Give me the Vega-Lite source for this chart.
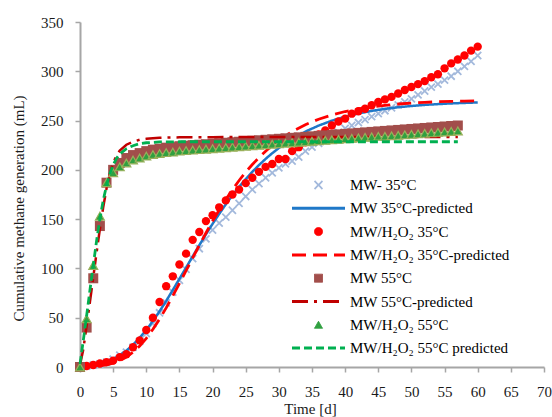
{
"$schema": "https://vega.github.io/schema/vega-lite/v6.json",
"width": 464, "height": 345,
"autosize": {"type": "none"},
"padding": {"left": 80, "top": 22, "right": 8, "bottom": 50},
"background": "white",
"config": {
  "view": {"stroke": null},
  "font": "Liberation Serif",
  "axis": {"domainColor": "#A6A6A6", "domainWidth": 2, "tickColor": "#A6A6A6", "tickWidth": 1.5, "tickSize": 5, "grid": false,
    "labelFont": "Liberation Serif", "labelFontSize": 15, "labelColor": "#1a1a1a",
    "titleFont": "Liberation Serif", "titleFontSize": 15, "titleFontWeight": "normal", "titleColor": "#1a1a1a"}
},
"data": {"values": [
{"s":"MW- 35°C","t":0,"v":0},{"s":"MW- 35°C","t":1,"v":1},{"s":"MW- 35°C","t":2,"v":2},{"s":"MW- 35°C","t":3,"v":3},{"s":"MW- 35°C","t":4,"v":5},{"s":"MW- 35°C","t":5,"v":8},{"s":"MW- 35°C","t":6,"v":12},{"s":"MW- 35°C","t":7,"v":15},{"s":"MW- 35°C","t":8,"v":20},{"s":"MW- 35°C","t":9,"v":26},{"s":"MW- 35°C","t":10,"v":34},{"s":"MW- 35°C","t":11,"v":44},{"s":"MW- 35°C","t":12,"v":55},{"s":"MW- 35°C","t":13,"v":65},{"s":"MW- 35°C","t":14,"v":76},{"s":"MW- 35°C","t":15,"v":88},{"s":"MW- 35°C","t":16,"v":99},{"s":"MW- 35°C","t":17,"v":110},{"s":"MW- 35°C","t":18,"v":120},{"s":"MW- 35°C","t":19,"v":130},{"s":"MW- 35°C","t":20,"v":139},{"s":"MW- 35°C","t":21,"v":146},{"s":"MW- 35°C","t":22,"v":152},{"s":"MW- 35°C","t":23,"v":159},{"s":"MW- 35°C","t":24,"v":166},{"s":"MW- 35°C","t":25,"v":173},{"s":"MW- 35°C","t":26,"v":180},{"s":"MW- 35°C","t":27,"v":186},{"s":"MW- 35°C","t":28,"v":192},{"s":"MW- 35°C","t":29,"v":197},{"s":"MW- 35°C","t":30,"v":202},{"s":"MW- 35°C","t":31,"v":206},{"s":"MW- 35°C","t":32,"v":209},{"s":"MW- 35°C","t":33,"v":213},{"s":"MW- 35°C","t":34,"v":219},{"s":"MW- 35°C","t":35,"v":223},{"s":"MW- 35°C","t":36,"v":227},{"s":"MW- 35°C","t":37,"v":231},{"s":"MW- 35°C","t":38,"v":235},{"s":"MW- 35°C","t":39,"v":238},{"s":"MW- 35°C","t":40,"v":242},{"s":"MW- 35°C","t":41,"v":245},{"s":"MW- 35°C","t":42,"v":248},{"s":"MW- 35°C","t":43,"v":251},{"s":"MW- 35°C","t":44,"v":254},{"s":"MW- 35°C","t":45,"v":257},{"s":"MW- 35°C","t":46,"v":260},{"s":"MW- 35°C","t":47,"v":263},{"s":"MW- 35°C","t":48,"v":266},{"s":"MW- 35°C","t":49,"v":269},{"s":"MW- 35°C","t":50,"v":272},{"s":"MW- 35°C","t":51,"v":276},{"s":"MW- 35°C","t":52,"v":280},{"s":"MW- 35°C","t":53,"v":284},{"s":"MW- 35°C","t":54,"v":287},{"s":"MW- 35°C","t":55,"v":291},{"s":"MW- 35°C","t":56,"v":295},{"s":"MW- 35°C","t":57,"v":300},{"s":"MW- 35°C","t":58,"v":305},{"s":"MW- 35°C","t":59,"v":310},{"s":"MW- 35°C","t":60,"v":316},
{"s":"MW 35°C-predicted","t":0,"v":0.5},{"s":"MW 35°C-predicted","t":1,"v":1},{"s":"MW 35°C-predicted","t":2,"v":1.9},{"s":"MW 35°C-predicted","t":3,"v":3.2},{"s":"MW 35°C-predicted","t":4,"v":5.2},{"s":"MW 35°C-predicted","t":5,"v":8},{"s":"MW 35°C-predicted","t":6,"v":11.8},{"s":"MW 35°C-predicted","t":7,"v":16.6},{"s":"MW 35°C-predicted","t":8,"v":22.5},{"s":"MW 35°C-predicted","t":9,"v":29.6},{"s":"MW 35°C-predicted","t":10,"v":37.6},{"s":"MW 35°C-predicted","t":11,"v":46.6},{"s":"MW 35°C-predicted","t":12,"v":56.5},{"s":"MW 35°C-predicted","t":13,"v":67},{"s":"MW 35°C-predicted","t":14,"v":78.1},{"s":"MW 35°C-predicted","t":15,"v":89.4},{"s":"MW 35°C-predicted","t":16,"v":100.8},{"s":"MW 35°C-predicted","t":17,"v":112.3},{"s":"MW 35°C-predicted","t":18,"v":123.5},{"s":"MW 35°C-predicted","t":19,"v":134.6},{"s":"MW 35°C-predicted","t":20,"v":145.2},{"s":"MW 35°C-predicted","t":21,"v":155.3},{"s":"MW 35°C-predicted","t":22,"v":165.1},{"s":"MW 35°C-predicted","t":23,"v":174.1},{"s":"MW 35°C-predicted","t":24,"v":182.7},{"s":"MW 35°C-predicted","t":25,"v":190.6},{"s":"MW 35°C-predicted","t":26,"v":198},{"s":"MW 35°C-predicted","t":27,"v":204.8},{"s":"MW 35°C-predicted","t":28,"v":211.1},{"s":"MW 35°C-predicted","t":29,"v":216.9},{"s":"MW 35°C-predicted","t":30,"v":222.1},{"s":"MW 35°C-predicted","t":32,"v":231.2},{"s":"MW 35°C-predicted","t":34,"v":238.8},{"s":"MW 35°C-predicted","t":36,"v":244.9},{"s":"MW 35°C-predicted","t":38,"v":249.9},{"s":"MW 35°C-predicted","t":40,"v":253.9},{"s":"MW 35°C-predicted","t":42,"v":257.2},{"s":"MW 35°C-predicted","t":44,"v":259.8},{"s":"MW 35°C-predicted","t":46,"v":261.9},{"s":"MW 35°C-predicted","t":48,"v":263.5},{"s":"MW 35°C-predicted","t":50,"v":264.8},{"s":"MW 35°C-predicted","t":52,"v":265.9},{"s":"MW 35°C-predicted","t":54,"v":266.7},{"s":"MW 35°C-predicted","t":56,"v":267.4},{"s":"MW 35°C-predicted","t":58,"v":267.9},{"s":"MW 35°C-predicted","t":60,"v":268.4},
{"s":"MW/H₂O₂ 35°C","t":0,"v":0},{"s":"MW/H₂O₂ 35°C","t":1,"v":1},{"s":"MW/H₂O₂ 35°C","t":2,"v":2},{"s":"MW/H₂O₂ 35°C","t":3,"v":3.5},{"s":"MW/H₂O₂ 35°C","t":4,"v":5},{"s":"MW/H₂O₂ 35°C","t":5,"v":6.5},{"s":"MW/H₂O₂ 35°C","t":6,"v":10},{"s":"MW/H₂O₂ 35°C","t":7,"v":13},{"s":"MW/H₂O₂ 35°C","t":8,"v":20},{"s":"MW/H₂O₂ 35°C","t":9,"v":27},{"s":"MW/H₂O₂ 35°C","t":10,"v":37.5},{"s":"MW/H₂O₂ 35°C","t":11,"v":50},{"s":"MW/H₂O₂ 35°C","t":12,"v":66},{"s":"MW/H₂O₂ 35°C","t":13,"v":82},{"s":"MW/H₂O₂ 35°C","t":14,"v":92},{"s":"MW/H₂O₂ 35°C","t":15,"v":104},{"s":"MW/H₂O₂ 35°C","t":16,"v":115},{"s":"MW/H₂O₂ 35°C","t":17,"v":129},{"s":"MW/H₂O₂ 35°C","t":18,"v":137},{"s":"MW/H₂O₂ 35°C","t":19,"v":148},{"s":"MW/H₂O₂ 35°C","t":20,"v":154},{"s":"MW/H₂O₂ 35°C","t":21,"v":162},{"s":"MW/H₂O₂ 35°C","t":22,"v":169},{"s":"MW/H₂O₂ 35°C","t":23,"v":175},{"s":"MW/H₂O₂ 35°C","t":24,"v":180},{"s":"MW/H₂O₂ 35°C","t":25,"v":186.5},{"s":"MW/H₂O₂ 35°C","t":26,"v":192},{"s":"MW/H₂O₂ 35°C","t":27,"v":198},{"s":"MW/H₂O₂ 35°C","t":28,"v":203},{"s":"MW/H₂O₂ 35°C","t":29,"v":206},{"s":"MW/H₂O₂ 35°C","t":30,"v":211},{"s":"MW/H₂O₂ 35°C","t":31,"v":211},{"s":"MW/H₂O₂ 35°C","t":32,"v":219},{"s":"MW/H₂O₂ 35°C","t":33,"v":223},{"s":"MW/H₂O₂ 35°C","t":34,"v":228},{"s":"MW/H₂O₂ 35°C","t":35,"v":232},{"s":"MW/H₂O₂ 35°C","t":36,"v":236},{"s":"MW/H₂O₂ 35°C","t":37,"v":240},{"s":"MW/H₂O₂ 35°C","t":38,"v":245},{"s":"MW/H₂O₂ 35°C","t":39,"v":249},{"s":"MW/H₂O₂ 35°C","t":40,"v":252},{"s":"MW/H₂O₂ 35°C","t":41,"v":257},{"s":"MW/H₂O₂ 35°C","t":42,"v":259.5},{"s":"MW/H₂O₂ 35°C","t":43,"v":262},{"s":"MW/H₂O₂ 35°C","t":44,"v":265.5},{"s":"MW/H₂O₂ 35°C","t":45,"v":269},{"s":"MW/H₂O₂ 35°C","t":46,"v":271.5},{"s":"MW/H₂O₂ 35°C","t":47,"v":274},{"s":"MW/H₂O₂ 35°C","t":48,"v":277.5},{"s":"MW/H₂O₂ 35°C","t":49,"v":281},{"s":"MW/H₂O₂ 35°C","t":50,"v":284},{"s":"MW/H₂O₂ 35°C","t":51,"v":287},{"s":"MW/H₂O₂ 35°C","t":52,"v":290},{"s":"MW/H₂O₂ 35°C","t":53,"v":294},{"s":"MW/H₂O₂ 35°C","t":54,"v":297},{"s":"MW/H₂O₂ 35°C","t":55,"v":303},{"s":"MW/H₂O₂ 35°C","t":56,"v":308},{"s":"MW/H₂O₂ 35°C","t":57,"v":312},{"s":"MW/H₂O₂ 35°C","t":58,"v":316},{"s":"MW/H₂O₂ 35°C","t":59,"v":321},{"s":"MW/H₂O₂ 35°C","t":60,"v":325},
{"s":"MW/H₂O₂ 35°C-predicted","t":0,"v":0.1},{"s":"MW/H₂O₂ 35°C-predicted","t":2,"v":0.5},{"s":"MW/H₂O₂ 35°C-predicted","t":4,"v":2.1},{"s":"MW/H₂O₂ 35°C-predicted","t":5,"v":3.8},{"s":"MW/H₂O₂ 35°C-predicted","t":6,"v":6.3},{"s":"MW/H₂O₂ 35°C-predicted","t":7,"v":10},{"s":"MW/H₂O₂ 35°C-predicted","t":8,"v":15},{"s":"MW/H₂O₂ 35°C-predicted","t":9,"v":21.4},{"s":"MW/H₂O₂ 35°C-predicted","t":10,"v":29.1},{"s":"MW/H₂O₂ 35°C-predicted","t":11,"v":38.3},{"s":"MW/H₂O₂ 35°C-predicted","t":12,"v":48.6},{"s":"MW/H₂O₂ 35°C-predicted","t":13,"v":60},{"s":"MW/H₂O₂ 35°C-predicted","t":14,"v":72.2},{"s":"MW/H₂O₂ 35°C-predicted","t":15,"v":84.8},{"s":"MW/H₂O₂ 35°C-predicted","t":16,"v":97.7},{"s":"MW/H₂O₂ 35°C-predicted","t":17,"v":110.7},{"s":"MW/H₂O₂ 35°C-predicted","t":18,"v":123.5},{"s":"MW/H₂O₂ 35°C-predicted","t":19,"v":135.9},{"s":"MW/H₂O₂ 35°C-predicted","t":20,"v":148},{"s":"MW/H₂O₂ 35°C-predicted","t":21,"v":159.3},{"s":"MW/H₂O₂ 35°C-predicted","t":22,"v":170},{"s":"MW/H₂O₂ 35°C-predicted","t":23,"v":179.9},{"s":"MW/H₂O₂ 35°C-predicted","t":24,"v":189.2},{"s":"MW/H₂O₂ 35°C-predicted","t":25,"v":197.7},{"s":"MW/H₂O₂ 35°C-predicted","t":26,"v":205.4},{"s":"MW/H₂O₂ 35°C-predicted","t":27,"v":212.5},{"s":"MW/H₂O₂ 35°C-predicted","t":28,"v":218.9},{"s":"MW/H₂O₂ 35°C-predicted","t":29,"v":224.7},{"s":"MW/H₂O₂ 35°C-predicted","t":30,"v":229.9},{"s":"MW/H₂O₂ 35°C-predicted","t":32,"v":238.8},{"s":"MW/H₂O₂ 35°C-predicted","t":34,"v":245.8},{"s":"MW/H₂O₂ 35°C-predicted","t":36,"v":251.4},{"s":"MW/H₂O₂ 35°C-predicted","t":38,"v":255.7},{"s":"MW/H₂O₂ 35°C-predicted","t":40,"v":259.2},{"s":"MW/H₂O₂ 35°C-predicted","t":42,"v":261.8},{"s":"MW/H₂O₂ 35°C-predicted","t":44,"v":263.9},{"s":"MW/H₂O₂ 35°C-predicted","t":46,"v":265.5},{"s":"MW/H₂O₂ 35°C-predicted","t":48,"v":266.8},{"s":"MW/H₂O₂ 35°C-predicted","t":50,"v":267.7},{"s":"MW/H₂O₂ 35°C-predicted","t":52,"v":268.5},{"s":"MW/H₂O₂ 35°C-predicted","t":54,"v":269.1},{"s":"MW/H₂O₂ 35°C-predicted","t":56,"v":269.5},{"s":"MW/H₂O₂ 35°C-predicted","t":58,"v":269.8},{"s":"MW/H₂O₂ 35°C-predicted","t":60,"v":270.1},
{"s":"MW 55°C","t":0,"v":0},{"s":"MW 55°C","t":1,"v":40},{"s":"MW 55°C","t":2,"v":90},{"s":"MW 55°C","t":3,"v":143},{"s":"MW 55°C","t":4,"v":187},{"s":"MW 55°C","t":5,"v":200},{"s":"MW 55°C","t":6,"v":207},{"s":"MW 55°C","t":7,"v":212},{"s":"MW 55°C","t":8,"v":215},{"s":"MW 55°C","t":9,"v":217},{"s":"MW 55°C","t":10,"v":219},{"s":"MW 55°C","t":11,"v":220.5},{"s":"MW 55°C","t":12,"v":221.5},{"s":"MW 55°C","t":13,"v":222.5},{"s":"MW 55°C","t":14,"v":223},{"s":"MW 55°C","t":15,"v":224},{"s":"MW 55°C","t":16,"v":224.5},{"s":"MW 55°C","t":17,"v":225},{"s":"MW 55°C","t":18,"v":225.5},{"s":"MW 55°C","t":19,"v":226},{"s":"MW 55°C","t":20,"v":226.5},{"s":"MW 55°C","t":21,"v":227},{"s":"MW 55°C","t":22,"v":227.5},{"s":"MW 55°C","t":23,"v":228},{"s":"MW 55°C","t":24,"v":228.5},{"s":"MW 55°C","t":25,"v":229},{"s":"MW 55°C","t":26,"v":229.5},{"s":"MW 55°C","t":27,"v":230},{"s":"MW 55°C","t":28,"v":230.5},{"s":"MW 55°C","t":29,"v":231},{"s":"MW 55°C","t":30,"v":231.5},{"s":"MW 55°C","t":31,"v":232},{"s":"MW 55°C","t":32,"v":232.5},{"s":"MW 55°C","t":33,"v":233},{"s":"MW 55°C","t":34,"v":233.5},{"s":"MW 55°C","t":35,"v":234},{"s":"MW 55°C","t":36,"v":234.5},{"s":"MW 55°C","t":37,"v":235},{"s":"MW 55°C","t":38,"v":235.5},{"s":"MW 55°C","t":39,"v":236},{"s":"MW 55°C","t":40,"v":236.5},{"s":"MW 55°C","t":41,"v":237},{"s":"MW 55°C","t":42,"v":237.5},{"s":"MW 55°C","t":43,"v":238},{"s":"MW 55°C","t":44,"v":238.5},{"s":"MW 55°C","t":45,"v":239},{"s":"MW 55°C","t":46,"v":239.5},{"s":"MW 55°C","t":47,"v":240},{"s":"MW 55°C","t":48,"v":240.5},{"s":"MW 55°C","t":49,"v":241},{"s":"MW 55°C","t":50,"v":241.5},{"s":"MW 55°C","t":51,"v":242},{"s":"MW 55°C","t":52,"v":242.5},{"s":"MW 55°C","t":53,"v":243},{"s":"MW 55°C","t":54,"v":243.5},{"s":"MW 55°C","t":55,"v":244},{"s":"MW 55°C","t":56,"v":244.5},{"s":"MW 55°C","t":57,"v":245},
{"s":"MW 55°C-predicted","t":0,"v":2},{"s":"MW 55°C-predicted","t":0.5,"v":18},{"s":"MW 55°C-predicted","t":1,"v":42},{"s":"MW 55°C-predicted","t":1.5,"v":66},{"s":"MW 55°C-predicted","t":2,"v":91},{"s":"MW 55°C-predicted","t":2.5,"v":116},{"s":"MW 55°C-predicted","t":3,"v":140},{"s":"MW 55°C-predicted","t":3.5,"v":162},{"s":"MW 55°C-predicted","t":4,"v":181},{"s":"MW 55°C-predicted","t":4.5,"v":196},{"s":"MW 55°C-predicted","t":5,"v":207},{"s":"MW 55°C-predicted","t":5.5,"v":214.5},{"s":"MW 55°C-predicted","t":6,"v":219.5},{"s":"MW 55°C-predicted","t":7,"v":225.5},{"s":"MW 55°C-predicted","t":8,"v":228.5},{"s":"MW 55°C-predicted","t":9,"v":230.5},{"s":"MW 55°C-predicted","t":10,"v":231.5},{"s":"MW 55°C-predicted","t":12,"v":232.5},{"s":"MW 55°C-predicted","t":15,"v":233},{"s":"MW 55°C-predicted","t":20,"v":233.2},{"s":"MW 55°C-predicted","t":30,"v":233.3},{"s":"MW 55°C-predicted","t":57,"v":233.3},
{"s":"MW/H₂O₂ 55°C","t":0,"v":0},{"s":"MW/H₂O₂ 55°C","t":1,"v":49},{"s":"MW/H₂O₂ 55°C","t":2,"v":103},{"s":"MW/H₂O₂ 55°C","t":3,"v":153},{"s":"MW/H₂O₂ 55°C","t":4,"v":187},{"s":"MW/H₂O₂ 55°C","t":5,"v":197},{"s":"MW/H₂O₂ 55°C","t":6,"v":203},{"s":"MW/H₂O₂ 55°C","t":7,"v":207},{"s":"MW/H₂O₂ 55°C","t":8,"v":210},{"s":"MW/H₂O₂ 55°C","t":9,"v":212},{"s":"MW/H₂O₂ 55°C","t":10,"v":214},{"s":"MW/H₂O₂ 55°C","t":11,"v":215.5},{"s":"MW/H₂O₂ 55°C","t":12,"v":216.5},{"s":"MW/H₂O₂ 55°C","t":13,"v":217.5},{"s":"MW/H₂O₂ 55°C","t":14,"v":218},{"s":"MW/H₂O₂ 55°C","t":15,"v":219},{"s":"MW/H₂O₂ 55°C","t":16,"v":219.5},{"s":"MW/H₂O₂ 55°C","t":17,"v":220},{"s":"MW/H₂O₂ 55°C","t":18,"v":220.5},{"s":"MW/H₂O₂ 55°C","t":19,"v":221},{"s":"MW/H₂O₂ 55°C","t":20,"v":221.5},{"s":"MW/H₂O₂ 55°C","t":21,"v":222},{"s":"MW/H₂O₂ 55°C","t":22,"v":222.5},{"s":"MW/H₂O₂ 55°C","t":23,"v":223},{"s":"MW/H₂O₂ 55°C","t":24,"v":223.5},{"s":"MW/H₂O₂ 55°C","t":25,"v":224},{"s":"MW/H₂O₂ 55°C","t":26,"v":224.5},{"s":"MW/H₂O₂ 55°C","t":27,"v":225},{"s":"MW/H₂O₂ 55°C","t":28,"v":225.5},{"s":"MW/H₂O₂ 55°C","t":29,"v":226},{"s":"MW/H₂O₂ 55°C","t":30,"v":226.5},{"s":"MW/H₂O₂ 55°C","t":31,"v":227},{"s":"MW/H₂O₂ 55°C","t":32,"v":227.5},{"s":"MW/H₂O₂ 55°C","t":33,"v":228},{"s":"MW/H₂O₂ 55°C","t":34,"v":228.5},{"s":"MW/H₂O₂ 55°C","t":35,"v":229},{"s":"MW/H₂O₂ 55°C","t":36,"v":229.5},{"s":"MW/H₂O₂ 55°C","t":37,"v":230},{"s":"MW/H₂O₂ 55°C","t":38,"v":230.5},{"s":"MW/H₂O₂ 55°C","t":39,"v":231},{"s":"MW/H₂O₂ 55°C","t":40,"v":231.5},{"s":"MW/H₂O₂ 55°C","t":41,"v":232},{"s":"MW/H₂O₂ 55°C","t":42,"v":232.5},{"s":"MW/H₂O₂ 55°C","t":43,"v":233},{"s":"MW/H₂O₂ 55°C","t":44,"v":233.5},{"s":"MW/H₂O₂ 55°C","t":45,"v":234},{"s":"MW/H₂O₂ 55°C","t":46,"v":234},{"s":"MW/H₂O₂ 55°C","t":47,"v":234.5},{"s":"MW/H₂O₂ 55°C","t":48,"v":235},{"s":"MW/H₂O₂ 55°C","t":49,"v":235.5},{"s":"MW/H₂O₂ 55°C","t":50,"v":236},{"s":"MW/H₂O₂ 55°C","t":51,"v":236.5},{"s":"MW/H₂O₂ 55°C","t":52,"v":237},{"s":"MW/H₂O₂ 55°C","t":53,"v":237.5},{"s":"MW/H₂O₂ 55°C","t":54,"v":238},{"s":"MW/H₂O₂ 55°C","t":55,"v":238.5},{"s":"MW/H₂O₂ 55°C","t":56,"v":239},{"s":"MW/H₂O₂ 55°C","t":57,"v":239.5},
{"s":"MW/H₂O₂ 55°C predicted","t":0,"v":3},{"s":"MW/H₂O₂ 55°C predicted","t":0.5,"v":27},{"s":"MW/H₂O₂ 55°C predicted","t":1,"v":52},{"s":"MW/H₂O₂ 55°C predicted","t":1.5,"v":78},{"s":"MW/H₂O₂ 55°C predicted","t":2,"v":103},{"s":"MW/H₂O₂ 55°C predicted","t":2.5,"v":128},{"s":"MW/H₂O₂ 55°C predicted","t":3,"v":150},{"s":"MW/H₂O₂ 55°C predicted","t":3.5,"v":169},{"s":"MW/H₂O₂ 55°C predicted","t":4,"v":184},{"s":"MW/H₂O₂ 55°C predicted","t":4.5,"v":196},{"s":"MW/H₂O₂ 55°C predicted","t":5,"v":205},{"s":"MW/H₂O₂ 55°C predicted","t":5.5,"v":211.5},{"s":"MW/H₂O₂ 55°C predicted","t":6,"v":216},{"s":"MW/H₂O₂ 55°C predicted","t":7,"v":221.5},{"s":"MW/H₂O₂ 55°C predicted","t":8,"v":224.5},{"s":"MW/H₂O₂ 55°C predicted","t":9,"v":226.5},{"s":"MW/H₂O₂ 55°C predicted","t":10,"v":227.5},{"s":"MW/H₂O₂ 55°C predicted","t":12,"v":228.3},{"s":"MW/H₂O₂ 55°C predicted","t":15,"v":228.5},{"s":"MW/H₂O₂ 55°C predicted","t":57,"v":228.5}
]},
"encoding": {
  "x": {"field": "t", "type": "quantitative", "scale": {"domain": [0, 70], "nice": false},
    "axis": {"values": [0,5,10,15,20,25,30,35,40,45,50,55,60,65,70], "labelPadding": 12, "labelFlush": false, "labelOverlap": false,
      "labelFont": "Liberation Serif", "labelFontSize": 15, "titleFont": "Liberation Serif", "titleFontSize": 15, "titleFontWeight": "normal",
      "title": "Time [d]", "titleX": 230, "titleY": 46, "titleBaseline": "alphabetic", "titleAlign": "center"}},
  "y": {"field": "v", "type": "quantitative", "scale": {"domain": [0, 350], "nice": false},
    "axis": {"values": [0,50,100,150,200,250,300,350], "labelPadding": 12, "labelFlush": false, "labelOverlap": false,
      "labelFont": "Liberation Serif", "labelFontSize": 15, "titleFont": "Liberation Serif", "titleFontSize": 15, "titleFontWeight": "normal",
      "title": "Cumulative methane generation (mL)", "titleX": -57, "titleY": 186, "titleAngle": -90, "titleBaseline": "alphabetic", "titleAlign": "center"}},
  "color": {"field": "s", "type": "nominal",
    "scale": {"domain": ["MW- 35°C","MW 35°C-predicted","MW/H₂O₂ 35°C","MW/H₂O₂ 35°C-predicted","MW 55°C","MW 55°C-predicted","MW/H₂O₂ 55°C","MW/H₂O₂ 55°C predicted"],
      "range": ["#A3B9DC","#1F78C8","#FF0000","#FF0000","#A24E4B","#C00000","#30A040","#00B050"]},
    "legend": {"orient": "none", "legendX": 212, "legendY": 155, "title": null, "padding": 0,
      "labelFont": "Liberation Serif", "labelFontSize": 15, "labelColor": "#000", "labelOffset": 5, "labelLimit": 300,
      "symbolSize": 2809, "clipHeight": 16, "rowPadding": 7.3,
      "encode": {
        "symbols": {"update": {
          "x": {"value": 26.5},
          "shape": {"scale": "shape", "field": "value"},
          "strokeDash": {"scale": "strokeDash", "field": "value"},
          "fill": {"signal": "scale('shape', datum.value) === 'stroke' || datum.value === 'MW- 35°C' ? 'transparent' : scale('color', datum.value)"},
          "stroke": {"signal": "datum.value === 'MW/H₂O₂ 55°C' ? '#98B05A' : scale('color', datum.value)"},
          "strokeWidth": {"signal": "scale('shape', datum.value) === 'stroke' ? 3 : (datum.value === 'MW- 35°C' ? 1.8 : 1)"},
          "size": {"signal": "scale('shape', datum.value) === 'stroke' ? 2809 : 64"},
          "opacity": {"value": 1}
        }},
        "labels": {"update": {"x": {"value": 58}}}
      }}}
},
"layer": [
  {"transform": [{"filter": {"field": "s", "equal": "MW- 35°C"}}],
   "mark": {"type": "point", "filled": false, "strokeWidth": 1.8, "size": 50, "opacity": 1},
   "encoding": {"shape": {"field": "s", "type": "nominal", "scale": {"domain": ["MW- 35°C","MW 35°C-predicted","MW/H₂O₂ 35°C","MW/H₂O₂ 35°C-predicted","MW 55°C","MW 55°C-predicted","MW/H₂O₂ 55°C","MW/H₂O₂ 55°C predicted"], "range": ["M-1,-1L1,1M-1,1L1,-1","stroke","circle","stroke","square","stroke","triangle-up","stroke"]}}}},
  {"transform": [{"filter": {"field": "s", "equal": "MW 35°C-predicted"}}],
   "mark": {"type": "line", "strokeWidth": 2.5},
   "encoding": {"strokeDash": {"field": "s", "type": "nominal", "scale": {"domain": ["MW- 35°C","MW 35°C-predicted","MW/H₂O₂ 35°C","MW/H₂O₂ 35°C-predicted","MW 55°C","MW 55°C-predicted","MW/H₂O₂ 55°C","MW/H₂O₂ 55°C predicted"], "range": [[1,0],[1,0],[1,0],[14,7],[1,0],[16,6,3,6],[1,0],[8,4]]}}}},
  {"transform": [{"filter": {"field": "s", "equal": "MW/H₂O₂ 35°C"}}],
   "mark": {"type": "point", "filled": true, "size": 70, "opacity": 1},
   "encoding": {"shape": {"field": "s", "type": "nominal"}}},
  {"transform": [{"filter": {"field": "s", "equal": "MW/H₂O₂ 35°C-predicted"}}],
   "mark": {"type": "line", "strokeWidth": 2.8},
   "encoding": {"strokeDash": {"field": "s", "type": "nominal"}}},
  {"transform": [{"filter": {"field": "s", "equal": "MW 55°C"}}],
   "mark": {"type": "point", "filled": true, "size": 100, "opacity": 1},
   "encoding": {"shape": {"field": "s", "type": "nominal"}}},
  {"transform": [{"filter": {"field": "s", "equal": "MW 55°C-predicted"}}],
   "mark": {"type": "line", "strokeWidth": 2.5},
   "encoding": {"strokeDash": {"field": "s", "type": "nominal"}}},
  {"transform": [{"filter": {"field": "s", "equal": "MW/H₂O₂ 55°C"}}],
   "mark": {"type": "point", "filled": true, "size": 80, "opacity": 1, "stroke": "#98B05A", "strokeWidth": 1.2},
   "encoding": {"shape": {"field": "s", "type": "nominal"}}},
  {"transform": [{"filter": {"field": "s", "equal": "MW/H₂O₂ 55°C predicted"}}],
   "mark": {"type": "line", "strokeWidth": 2.8},
   "encoding": {"strokeDash": {"field": "s", "type": "nominal"}}}
]
}
